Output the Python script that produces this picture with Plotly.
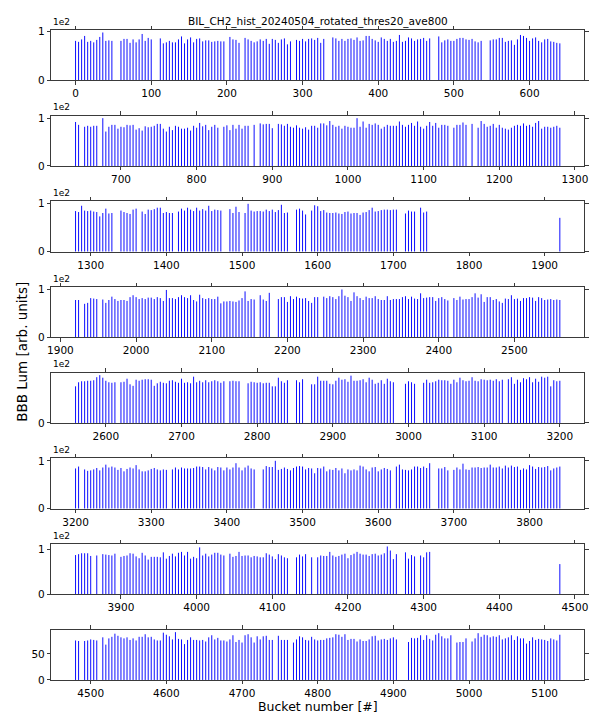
import plotly.graph_objects as go

# ---------------- figure / text ----------------
W, H = 591, 716
title_text = "BIL_CH2_hist_20240504_rotated_thres20_ave800"
ylabel_text = "BBB Lum [arb. units]"
xlabel_text = "Bucket number [#]"
offset_text = "1e2"

SPACING = 4          # buckets between neighbouring bunches inside a train
panel_start = [0, 640, 1280, 1920, 2560, 3200, 3840, 4480]
panel_len = 640

y_tickvals_main = [0, 100]
y_ticktext_main = ["0", "1"]
y_tickvals_last = [0, 50]
y_ticktext_last = ["0", "50"]

# ---------------- data: bunch trains (first, last bucket) and luminosity ----------------
trains_p1 = [(0, 48), (60, 100), (112, 196), (204, 216), (224, 284), (292, 328),
             (340, 468), (480, 536), (548, 640)]
lum_p1 = [80, 78, 83, 90, 78, 80, 77, 82, 88, 97, 80, 81, 80,
          80, 84, 84, 76, 83, 77, 83, 94, 80, 86, 83,
          85, 75, 77, 80, 77, 77, 83, 89, 75, 83, 87, 77, 84, 85, 79, 81, 81, 78, 79, 80, 79, 79,
          88, 83, 82, 76,
          86, 83, 80, 77, 79, 83, 80, 84, 74, 84, 82, 76, 83, 85, 73, 79,
          82, 80, 84, 79, 84, 85, 82, 86, 76, 84,
          87, 85, 80, 84, 80, 84, 85, 82, 87, 80, 81, 90, 90, 84, 81, 78, 87, 84, 80, 84,
          78, 80, 92, 78, 80, 87, 85, 80, 83, 84, 86, 80, 85,
          89, 77, 81, 83, 80, 80, 84, 86, 86, 83, 82, 84, 79, 77, 80,
          81, 83, 83, 86, 86, 78, 80, 81, 72, 83, 92, 90, 86, 80, 85, 87, 80, 77, 83, 84,
          79, 78, 76, 75]

trains_p2 = [(640, 644), (652, 668), (676, 828), (836, 868), (876, 876), (884, 900),
             (908, 1132), (1140, 1156), (1164, 1164), (1172, 1280)]
lum_p2 = [92, 86,
          82, 84, 82, 84, 84,
          100, 72, 82, 86, 86, 78, 82, 81, 86, 85, 86, 76, 79, 74, 83, 81, 82, 84, 88, 88,
          78, 72, 82, 75, 84, 82, 78, 78, 80, 74, 84, 80, 90, 83, 86, 75, 82, 86, 80,
          82, 85, 75, 86, 78, 86, 78, 84, 84,
          86,
          89, 87, 88, 88, 79,
          88, 87, 84, 88, 82, 80, 85, 80, 78, 81, 76, 84, 84, 80, 89, 89, 85, 94, 86, 82,
          84, 78, 84, 82, 80, 80, 100, 82, 93, 80, 88, 86, 89, 86, 78, 82, 86, 84, 84, 84,
          93, 86, 82, 86, 90, 84, 93, 82, 78, 84, 92, 84, 90, 80, 86, 86, 84,
          80, 86, 86, 91, 86,
          88,
          80, 94, 88, 82, 84, 88, 80, 86, 80, 78, 76, 80, 84, 86, 84, 89, 84, 86, 82, 90,
          94, 78, 82, 82, 80, 82, 84, 80]

trains_p3 = [(1280, 1328), (1340, 1360), (1368, 1408), (1416, 1472), (1484, 1496),
             (1504, 1560), (1572, 1584), (1592, 1704), (1716, 1728), (1736, 1744), (1920, 1920)]
lum_p3 = [84, 82, 95, 85, 84, 85, 83, 82, 73, 80, 89, 79, 80,
          85, 82, 80, 78, 87, 89,
          83, 78, 87, 86, 88, 91, 91, 80, 82, 80, 80,
          83, 89, 85, 91, 87, 84, 91, 85, 88, 85, 95, 84, 87, 86, 85,
          88, 80, 93, 82,
          80, 99, 85, 83, 84, 84, 83, 87, 84, 87, 82, 86, 97, 80, 81,
          87, 89, 85, 77,
          85, 96, 94, 84, 86, 81, 80, 80, 81, 79, 78, 82, 83, 79, 80, 80, 76, 81, 82, 86,
          91, 83, 84, 86, 87, 87, 86, 87, 87,
          79, 85, 83, 83,
          91, 81, 83,
          70]

trains_p4 = [(1920, 1924), (1932, 1948), (1956, 2156), (2164, 2176), (2188, 2240),
             (2248, 2412), (2420, 2560)]
lum_p4 = [78, 78,
          70, 72, 82, 81, 80,
          79, 72, 78, 85, 80, 76, 78, 78, 76, 84, 88, 84, 80, 82, 80, 83, 83, 80, 84, 82,
          76, 99, 82, 82, 80, 84, 88, 84, 82, 88, 78, 75, 89, 82, 80, 82, 80, 80, 85, 71,
          75, 75, 76, 75, 74, 77, 82, 96, 76, 80, 79,
          88, 79, 76, 93,
          80, 84, 84, 74, 86, 80, 85, 82, 81, 82, 76, 72, 84, 84,
          85, 82, 86, 84, 80, 86, 100, 87, 84, 76, 94, 86, 82, 78, 85, 82, 82, 86, 80, 78,
          78, 86, 78, 80, 80, 80, 84, 86, 80, 85, 81, 80, 92, 82, 83, 84, 84, 76, 82, 84,
          80, 77,
          82, 78, 85, 79, 80, 80, 84, 92, 83, 90, 74, 84, 84, 78, 80, 75, 72, 81, 80, 88,
          80, 81, 76, 82, 82, 84, 83, 76, 84, 82, 78, 79, 80, 78, 79, 78]

trains_p5 = [(2560, 2612), (2620, 2756), (2764, 2776), (2788, 2840), (2852, 2860),
             (2872, 2980), (2996, 3008), (3020, 3124), (3132, 3200)]
lum_p5 = [72, 80, 82, 82, 83, 83, 84, 90, 94, 89, 83, 80, 79, 80,
          80, 81, 87, 76, 73, 85, 83, 85, 86, 86, 85, 73, 78, 81, 79, 78, 83, 84, 81, 79,
          87, 79, 80, 78, 91, 80, 83, 80, 84, 80, 82, 84, 82, 79, 82,
          82, 83, 82, 82,
          78, 81, 80, 79, 80, 78, 79, 79, 72, 72, 89, 82, 79, 84,
          84, 80, 86,
          76, 76, 91, 83, 83, 83, 77, 76, 83, 89, 85, 86, 81, 93, 83, 83, 84, 86, 80, 89,
          85, 77, 79, 84, 77, 87, 82, 80,
          77, 82, 80, 77,
          79, 85, 79, 80, 82, 85, 84, 84, 83, 77, 85, 80, 89, 84, 82, 83, 90, 83, 82, 86,
          85, 84, 85, 83, 86, 82, 85,
          86, 90, 77, 85, 80, 88, 86, 90, 80, 87, 81, 91, 89, 91, 72, 84, 82, 83]

trains_p6 = [(3200, 3204), (3212, 3320), (3328, 3436), (3448, 3616), (3624, 3668),
             (3680, 3692), (3700, 3840)]
lum_p6 = [84, 88,
          82, 79, 80, 82, 85, 80, 86, 92, 86, 88, 86, 81, 85, 78, 83, 86, 84, 91, 82, 78,
          78, 80, 83, 85, 82, 80, 82, 81,
          82, 86, 82, 86, 84, 84, 84, 85, 88, 88, 87, 82, 87, 84, 80, 87, 86, 80, 86, 82,
          86, 95, 86, 80, 86, 90, 84, 82,
          82, 89, 87, 87, 100, 81, 83, 86, 83, 80, 85, 88, 89, 88, 82, 85, 84, 74, 85, 84,
          88, 78, 82, 81, 85, 80, 84, 74, 82, 80, 82, 80, 90, 88, 82, 78, 86, 87, 78, 82,
          85, 83, 80,
          88, 92, 82, 81, 80, 82, 88, 88, 85, 88, 85, 95,
          84, 84, 87, 80,
          81, 86, 82, 94, 82, 81, 86, 86, 87, 85, 86, 86, 92, 86, 86, 88, 84, 90, 86, 90,
          87, 88, 81, 84, 82, 91, 88, 83, 87, 86, 87, 89, 80, 84, 86, 88]

trains_p7 = [(3840, 3860), (3868, 3868), (3876, 3892), (3900, 4036), (4044, 4120),
             (4132, 4144), (4152, 4152), (4160, 4264), (4276, 4288), (4296, 4308), (4480, 4480)]
lum_p7 = [87, 89, 91, 91, 91, 85,
          86,
          89, 88, 87, 86, 90,
          83, 85, 86, 91, 90, 84, 80, 92, 86, 77, 83, 83, 83, 82, 93, 79, 85, 90, 84, 92,
          94, 86, 94, 79, 83, 80, 104, 86, 90, 84, 88, 92, 92, 88, 86,
          90, 83, 85, 94, 85, 86, 86, 82, 85, 84, 82, 82, 91, 88, 84, 78, 89, 86, 82, 80,
          82, 88, 84, 89,
          82,
          82, 86, 85, 85, 94, 86, 83, 85, 88, 90, 80, 87, 90, 94, 90, 88, 88, 85, 89, 90,
          86, 88, 91, 106, 97, 78, 89,
          93, 79, 87, 84,
          86, 82, 93, 94,
          67]

trains_p8 = [(4480, 4484), (4492, 4508), (4516, 4740), (4748, 4760), (4768, 4904),
             (4920, 4976), (4984, 4996), (5004, 5120)]
lum_p8 = [76, 75,
          75, 76, 78, 77, 76,
          82, 68, 80, 83, 89, 85, 82, 80, 82, 77, 80, 76, 83, 83, 88, 82, 83, 78, 76, 76,
          91, 87, 84, 78, 92, 79, 78, 69, 77, 82, 77, 77, 76, 77, 74, 82, 86, 78, 81, 76,
          76, 74, 78, 86, 73, 77, 72, 86, 88, 82, 72, 84, 78, 84, 85, 77, 77,
          85, 77, 77, 77,
          72, 78, 84, 82, 77, 76, 83, 78, 76, 77, 77, 80, 81, 82, 88, 87, 83, 88, 77, 79,
          79, 74, 78, 75, 75, 78, 84, 85, 76, 78, 79, 77, 80, 82, 78,
          73, 81, 80, 81, 86, 77, 86, 79, 76, 87, 90, 84, 80, 80, 86,
          72, 73, 73, 80,
          74, 80, 90, 83, 87, 86, 82, 84, 83, 86, 78, 80, 82, 86, 77, 84, 80, 80, 70, 75,
          82, 77, 79, 78, 77, 75, 80, 78, 76, 87]

panels = [(trains_p1, lum_p1), (trains_p2, lum_p2), (trains_p3, lum_p3), (trains_p4, lum_p4),
          (trains_p5, lum_p5), (trains_p6, lum_p6), (trains_p7, lum_p7), (trains_p8, lum_p8)]

# ---------------- geometry (pixels) ----------------
AX_L, AX_R = 48, 588
BOTTOM0, STEP, AX_H = 76.5, 87.0, 51
FONT = "DejaVu Sans"
AXC = "#3a3a3a"
BAR = "rgb(0,0,255)"


def px_x(p):
    return p / W


def px_y(p):
    return 1 - p / H


def bunch_buckets(trains):
    out = []
    for a, b in trains:
        out.extend(range(a, b + 1, SPACING))
    return out


fig = go.Figure()
annotations = []
for k, (trains, lum) in enumerate(panels):
    n = k + 1
    bk = bunch_buckets(trains)
    xs, ys = [], []
    for b, v in zip(bk, lum):
        xs += [b, b, None]
        ys += [0, v, None]
    sfx = "" if n == 1 else str(n)
    fig.add_trace(go.Scatter(x=xs, y=ys, mode="lines", xaxis="x" + sfx, yaxis="y" + sfx,
                             line=dict(color=BAR, width=0.95), hoverinfo="skip",
                             showlegend=False))
    bottom = BOTTOM0 + STEP * k
    top = bottom - AX_H
    s = panel_start[k]
    ymax = 1.05 * max(lum)
    last = (n == 8)
    fig.update_layout(**{
        "xaxis" + sfx: dict(domain=[px_x(AX_L), px_x(AX_R)], anchor="y" + sfx,
                            range=[s - 32, s + panel_len + 32], tick0=0, dtick=100,
                            ticks="outside", ticklen=3.5, tickwidth=1, tickcolor=AXC,
                            showline=True, linecolor=AXC, linewidth=1, mirror="ticks",
                            showgrid=False, zeroline=False,
                            tickfont=dict(family=FONT, size=10.5, color="#000")),
        "yaxis" + sfx: dict(domain=[px_y(bottom), px_y(top)], anchor="x" + sfx,
                            range=[0, ymax],
                            tickvals=y_tickvals_last if last else y_tickvals_main,
                            ticktext=y_ticktext_last if last else y_ticktext_main,
                            ticks="outside", ticklen=3.5, tickwidth=1, tickcolor=AXC,
                            showline=True, linecolor=AXC, linewidth=1, mirror="ticks",
                            showgrid=False, zeroline=False,
                            tickfont=dict(family=FONT, size=10.5, color="#000")),
    })
    if not last:
        annotations.append(dict(text=offset_text, xref="paper", yref="paper",
                                x=px_x(AX_L), y=px_y(top - 1.5), xanchor="left",
                                yanchor="bottom", showarrow=False,
                                font=dict(family=FONT, size=9, color="#000")))

annotations.append(dict(text=title_text, xref="paper", yref="paper",
                        x=px_x((AX_L + AX_R) / 2), y=px_y(16.5), xanchor="center",
                        yanchor="middle", showarrow=False,
                        font=dict(family=FONT, size=10.5, color="#000")))
annotations.append(dict(text=ylabel_text, xref="paper", yref="paper",
                        x=px_x(17.5), y=px_y(352), xanchor="center", yanchor="middle",
                        textangle=-90, showarrow=False,
                        font=dict(family=FONT, size=13.5, color="#000")))
annotations.append(dict(text=xlabel_text, xref="paper", yref="paper",
                        x=px_x((AX_L + AX_R) / 2), y=px_y(712), xanchor="center",
                        yanchor="middle", showarrow=False,
                        font=dict(family=FONT, size=12.5, color="#000")))

fig.update_layout(width=W, height=H, margin=dict(l=0, r=0, t=0, b=0),
                  paper_bgcolor="white", plot_bgcolor="white",
                  annotations=annotations, showlegend=False)

fig.write_html("out.html",
               config={"displayModeBar": False},
               post_script="document.body.style.margin='0px';"
                           "document.documentElement.style.overflow='hidden';")
